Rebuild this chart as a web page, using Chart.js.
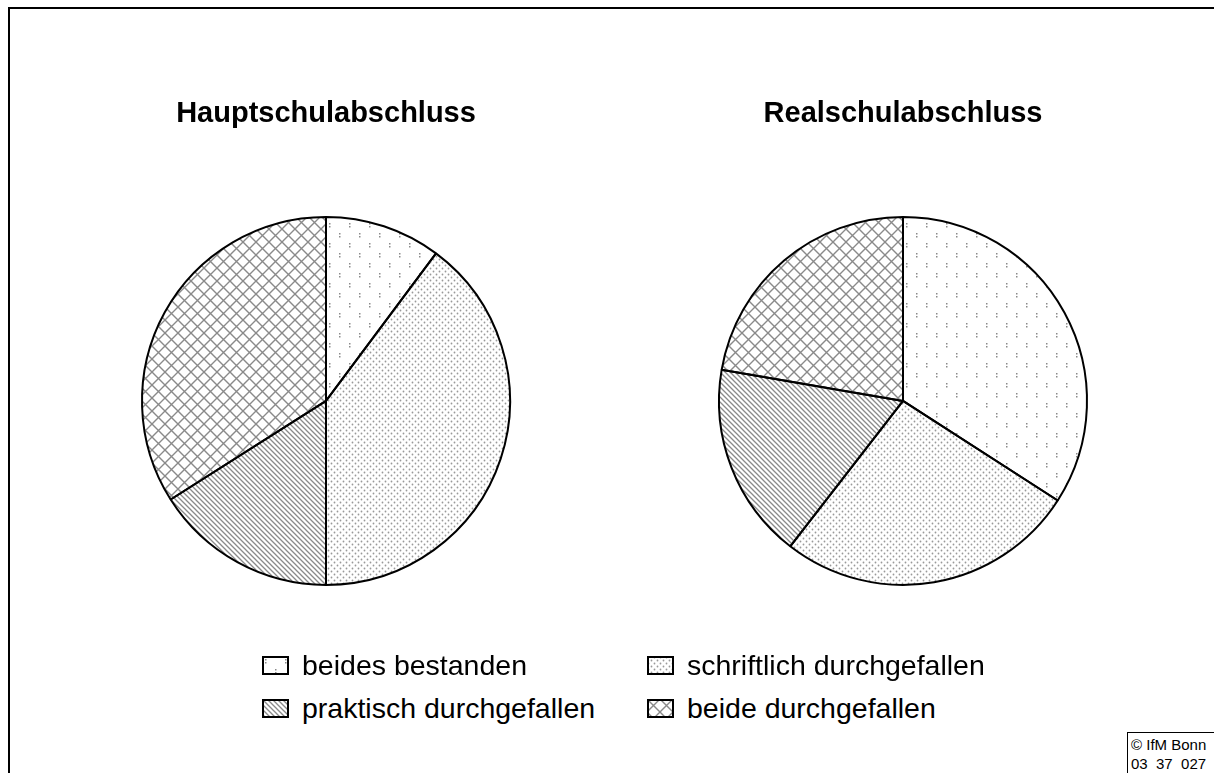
<!DOCTYPE html>
<html lang="de">
<head>
<meta charset="utf-8">
<title>Prüfungsergebnisse</title>
<script src="https://cdn.jsdelivr.net/npm/chart.js@4"></script>
<style>
  body { margin:0; width:1214px; height:773px; background:#fff; overflow:hidden; position:relative;
         font-family:"Liberation Sans", Arial, sans-serif; color:#000; }
  #frame { position:absolute; left:8px; top:7px; width:1300px; height:900px;
           border-top:2px solid #000; border-left:2px solid #000; }
  .pie-box { position:absolute; top:60px; width:400px; height:610px; }
  .leg { position:absolute; height:28px; display:flex; align-items:center; font-size:28.5px; line-height:28px; white-space:nowrap; }
  .leg canvas { width:27px; height:19px; margin-right:13px; }
  #copy { position:absolute; left:1127px; top:732px; width:200px; height:60px;
          border-top:1px solid #000; border-left:1px solid #000;
          font-size:15px; line-height:19px; padding:2px 0 0 3px; white-space:pre; }
</style>
</head>
<body>
<div id="frame"></div>
<div class="pie-box" style="left:126px"><canvas id="pie1"></canvas></div>
<div class="pie-box" style="left:703px"><canvas id="pie2"></canvas></div>

<div class="leg" style="left:262px; top:651px"><canvas id="sw0" width="27" height="19"></canvas><span>beides bestanden</span></div>
<div class="leg" style="left:647px; top:651px"><canvas id="sw1" width="27" height="19"></canvas><span>schriftlich durchgefallen</span></div>
<div class="leg" style="left:262px; top:694px"><canvas id="sw2" width="27" height="19"></canvas><span>praktisch durchgefallen</span></div>
<div class="leg" style="left:647px; top:694px"><canvas id="sw3" width="27" height="19"></canvas><span>beide durchgefallen</span></div>

<div id="copy">© IfM Bonn
03  37  027</div>

<script>
// Kategorien und Anteile (Prozent)
const categories = ["beides bestanden", "schriftlich durchgefallen", "praktisch durchgefallen", "beide durchgefallen"];
const hauptValues = [10.2, 39.8, 16.0, 34.0];
const realValues  = [34.1, 26.4, 17.2, 22.3];
const titles = ["Hauptschulabschluss", "Realschulabschluss"];

// Schraffuren als Canvas-Muster
function makeTile(kind) {
  var c = document.createElement("canvas");
  var ctx = c.getContext("2d");
  if (kind == 0) {          // lockere Punktpaare
    c.width = 20; c.height = 20;
    ctx.fillStyle = "#8a8a8a";
    ctx.fillRect(3, 3, 1.5, 1.5); ctx.fillRect(3, 6, 1.5, 1.5);
    ctx.fillRect(13, 13, 1.5, 1.5); ctx.fillRect(13, 16, 1.5, 1.5);
  } else if (kind == 1) {   // dichte Punkte
    c.width = 6; c.height = 6;
    ctx.fillStyle = "#999";
    ctx.beginPath(); ctx.arc(1.5, 1.5, 0.9, 0, Math.PI*2); ctx.fill();
    ctx.beginPath(); ctx.arc(4.5, 4.5, 0.9, 0, Math.PI*2); ctx.fill();
  } else if (kind == 2) {   // Schraegstreifen
    c.width = 5; c.height = 5;
    ctx.strokeStyle = "#8a8a8a"; ctx.lineWidth = 1.3;
    ctx.beginPath();
    ctx.moveTo(-1, -1); ctx.lineTo(6, 6);
    ctx.moveTo(-1, 4); ctx.lineTo(1, 6);
    ctx.moveTo(4, -1); ctx.lineTo(6, 1);
    ctx.stroke();
  } else {                  // Kreuzschraffur
    c.width = 13; c.height = 13;
    ctx.strokeStyle = "#8a8a8a"; ctx.lineWidth = 1.4;
    ctx.beginPath();
    ctx.moveTo(0, 0); ctx.lineTo(13, 13);
    ctx.moveTo(13, 0); ctx.lineTo(0, 13);
    ctx.stroke();
  }
  return c;
}

var patterns = [];
for (let i = 0; i < 4; i++) {
  var tile = makeTile(i);
  patterns.push(document.createElement("canvas").getContext("2d").createPattern(tile, "repeat"));
  // Legendenkaestchen
  var sw = document.getElementById("sw" + i).getContext("2d");
  sw.fillStyle = sw.createPattern(tile, "repeat");
  sw.fillRect(0, 0, 27, 19);
  sw.strokeStyle = "#000"; sw.lineWidth = 2;
  sw.strokeRect(1, 1, 25, 17);
}

function makePie(id, values, title) {
  return new Chart(document.getElementById(id), {
    type: "pie",
    data: {
      labels: categories,
      datasets: [{
        data: values,
        backgroundColor: patterns,
        borderColor: "#000",
        borderWidth: 2
      }]
    },
    options: {
      responsive: true,
      maintainAspectRatio: false,
      animation: false,
      radius: 184,
      events: [],
      plugins: {
        legend: { display: false },
        tooltip: { enabled: false },
        title: {
          display: true,
          text: title,
          color: "#000",
          font: { family: "'Liberation Sans', Arial, sans-serif", size: 29, weight: "bold" },
          padding: { top: 37, bottom: 0 }
        }
      }
    }
  });
}

makePie("pie1", hauptValues, titles[0]);
makePie("pie2", realValues, titles[1]);
</script>
</body>
</html>
